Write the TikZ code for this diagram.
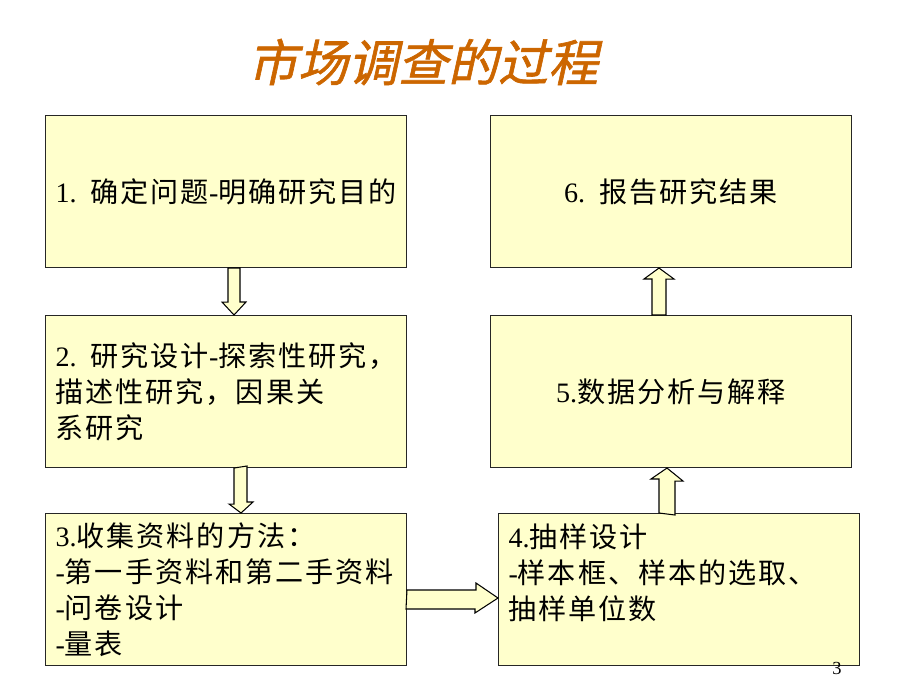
\documentclass[tikz,border=0pt]{standalone}
\usepackage{fontspec}
\setmainfont[LetterSpace=7]{Noto Sans CJK SC}
\newfontfamily\latfont{Liberation Serif}
\newfontfamily\titlefont[FakeSlant=0.22,FakeBold=1.2]{Noto Sans CJK SC}
\usetikzlibrary{calc}
\definecolor{boxyellow}{RGB}{255,255,204}
\definecolor{titleorange}{RGB}{204,102,0}

\begin{document}
\begin{tikzpicture}[x = 0.02cm, y = -0.02cm,
  box/.style = {draw = black!85, line width = 0.6pt, fill = boxyellow, minimum width = 7.22cm, minimum height = 3.04cm,
    inner xsep = 0.2cm, text width = 6.82cm, align = left, anchor = north west, font = \fontsize{16}{20.5}\selectfont},
  midbox/.style = {box, align = center},
  blk/.style = {draw = black, line width = 0.6pt, fill = boxyellow}]
\useasboundingbox (0, 0) rectangle (920, 690);
\node[text = titleorange, font = \titlefont\fontsize{28.5}{30}\selectfont] (title) at (423, 62) {市场调查的过程};
\node[box] (b1) at (45, 115) {\mbox{{\latfont 1. }确定问题{\latfont -}明确研究目的}};
\node[box] (b2) at (45, 315) {\mbox{{\latfont 2. }研究设计{\latfont -}探索性研究，}\\描述性研究，因果关\\系研究};
\node[box] (b3) at (45, 513) {{\latfont 3.}收集资料的方法：\\\mbox{{\latfont -}第一手资料和第二手资料}\\{\latfont -}问卷设计\\{\latfont -}量表};
\node[box] (b4) at (498, 513) {{\latfont 4.}抽样设计\\{\latfont -}样本框、样本的选取、\\抽样单位数\\\mbox{}};
\node[midbox] (b5) at (490, 315) {{\latfont 5.}数据分析与解释};
\node[midbox] (b6) at (490, 115) {{\latfont 6. }报告研究结果};
\node[font = \latfont\fontsize{10.5}{12}\selectfont] (pg) at (837, 668) {3};
\draw[blk] ($(b1.south west)+(183, 0)$) -- ++(0, 34) -- ++(-6, 0) -- ($(b2.north west)+(189, 0)$) -- ++(12, -13) -- ++(-6, 0) -- ++(0, -34) -- cycle;
\draw[blk] ($(b2.south west)+(189, 0)$) -- ++(0, 36) -- ++(-5, 0) -- ($(b3.north west)+(196, 0)$) -- ++(12, -11) -- ++(-6, 0) -- ++(0, -36) -- cycle;
\draw[blk] ($(b3.north east)+(0, 77)$) -- ++(69, 0) -- ++(0, -7) -- ($(b4.north west)+(0, 85)$) -- ++(-23, 15) -- ++(0, -4) -- ++(-69, 0) -- cycle;
\draw[blk] ($(b4.north west)+(161, 0)$) -- ++(0, -34) -- ++(-8, 0) -- ($(b5.south west)+(177, 0)$) -- ++(16, 13) -- ++(-8, 0) -- ++(0, 34) -- cycle;
\draw[blk] ($(b5.north west)+(162, 0)$) -- ++(0, -36) -- ++(-8, 0) -- ($(b6.south west)+(169, 0)$) -- ++(15, 11) -- ++(-8, 0) -- ++(0, 36) -- cycle;
\end{tikzpicture}
\end{document}
